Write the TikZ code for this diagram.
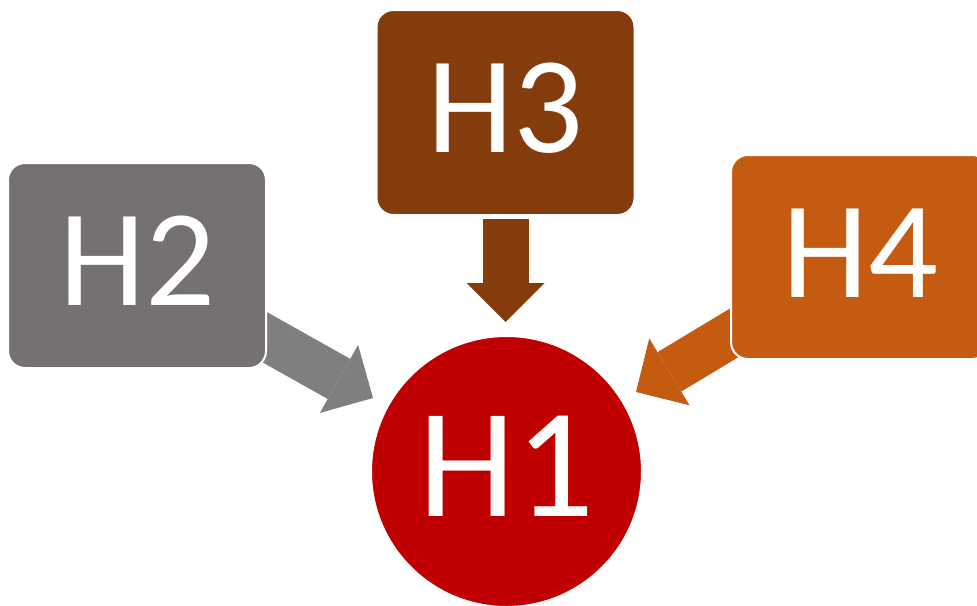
\documentclass[tikz,border=0pt]{standalone}
\usepackage{fontspec}
\setmainfont{Carlito}
\usetikzlibrary{arrows.meta,backgrounds,calc}
\definecolor{hgray}{HTML}{767171}
\definecolor{agray}{HTML}{7F7F7F}
\definecolor{hbrown}{HTML}{843C0C}
\definecolor{horange}{HTML}{C55A11}
\definecolor{hred}{HTML}{C00000}
\begin{document}
\begin{tikzpicture}[x=1pt,y=-1pt,
  hbox/.style={rectangle, rounded corners=17pt, draw=white, line width=2pt,
    minimum width=258pt, minimum height=205pt, inner sep=0pt,
    text=white, font=\fontsize{138}{138}\selectfont, text height=88pt, text depth=8pt},
  hcirc/.style={circle, draw=white, line width=2pt, minimum size=271pt, inner sep=0pt,
    text=white, font=\fontsize{156}{156}\selectfont, text height=99pt, text depth=10pt},
  blockarrow/.style={line width=46pt, line cap=butt,
    -{Triangle[length=39pt,width=78pt,line width=0pt]}}
]
\useasboundingbox (0,0) rectangle (977,605);
\node[hbox, fill=hgray] (H2) at (137,265.5) {H2};
\node[hbox, fill=hbrown] (H3) at (505.5,112.5) {H3};
\node[hbox, fill=horange, minimum height=204pt] (H4) at (860,257) {H4};
\node[hcirc, fill=hred] (H1) at (506.5,471.5) {H1};
\coordinate (t2) at (373,398);
\coordinate (t3) at (505.5,322);
\coordinate (t4) at (636,392);
\begin{pgfonlayer}{background}
\draw[blockarrow, agray] (H2.center) -- (t2);
\draw[blockarrow, hbrown] ($(H3.south)+(0,3)$) -- (t3);
\draw[blockarrow, horange] (H4.center) -- (t4);
\end{pgfonlayer}
\end{tikzpicture}
\end{document}
